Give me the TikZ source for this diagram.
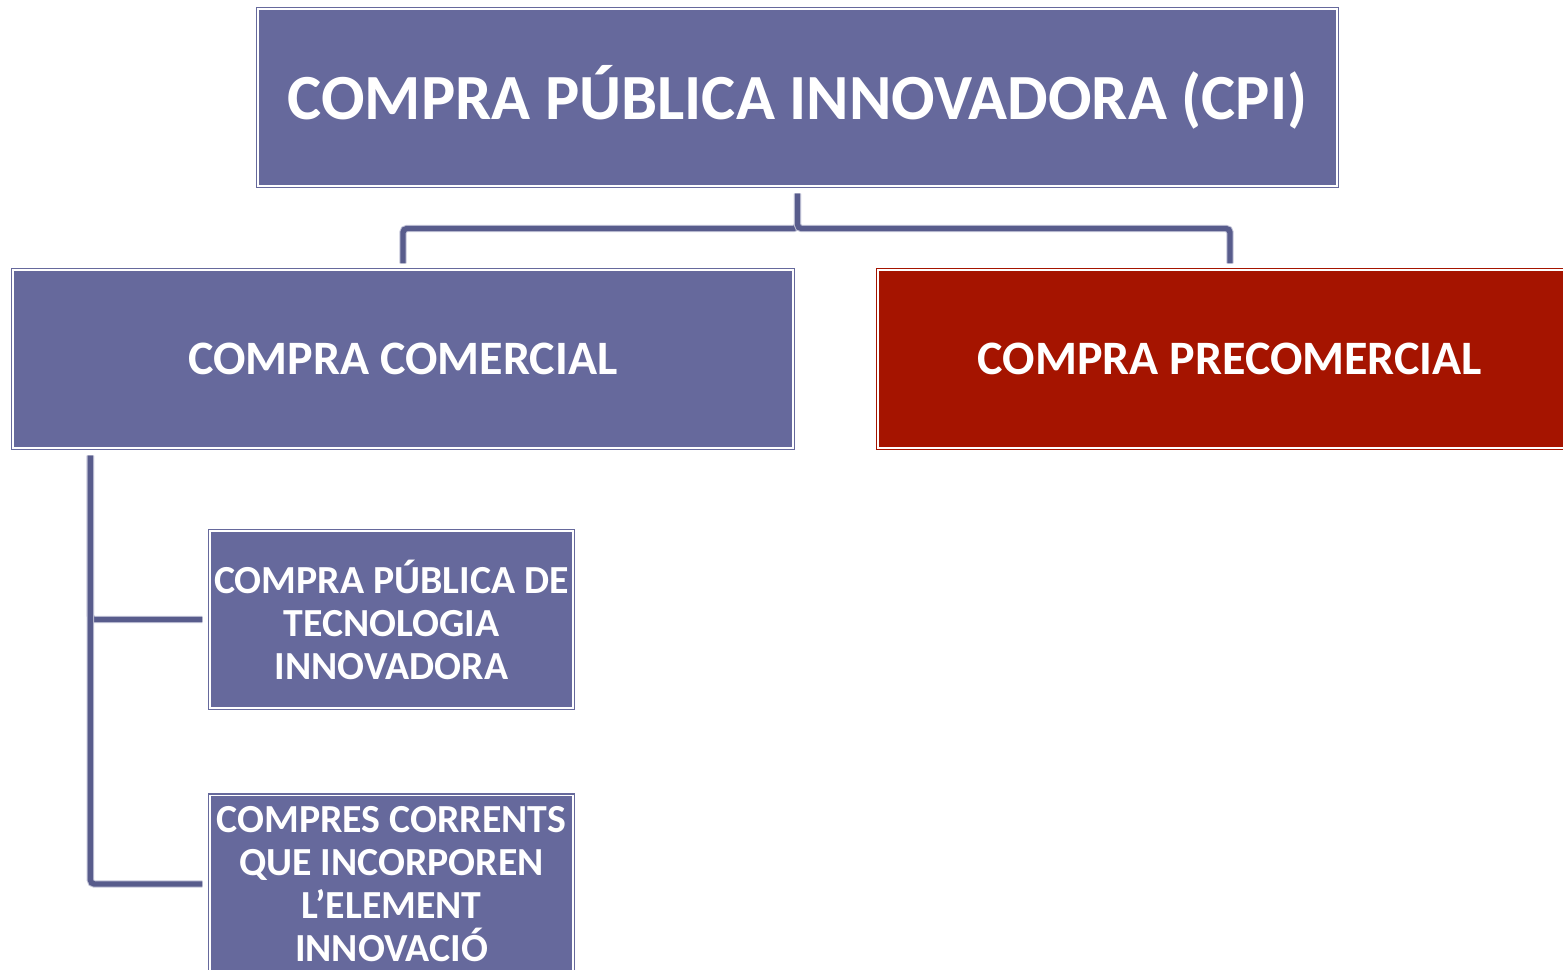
\documentclass[tikz,border=0pt]{standalone}
\usepackage{fontspec}
\setmainfont{Carlito}
\usetikzlibrary{positioning, calc}
\definecolor{cpiblue}{RGB}{102,105,156}
\definecolor{cpired}{RGB}{165,20,0}
\definecolor{linkblue}{RGB}{88,92,140}

\begin{document}
\begin{tikzpicture}[x=0.5pt, y=-0.5pt,
    box/.style={draw=#1, fill=#1, double=white, double distance=0.9pt, line width=0.6pt, text=white, align=center, inner sep=0pt},
    topbox/.style={box=cpiblue, minimum width=539.4pt, minimum height=88.4pt, font=\bfseries\fontsize{32.2}{38}\selectfont},
    midbox/.style={box=#1, minimum height=89pt, font=\bfseries\fontsize{24}{29}\selectfont},
    subbox/.style={box=cpiblue, minimum width=181.5pt, minimum height=88.5pt, font=\bfseries\fontsize{19.9}{21.5}\selectfont},
    link/.style={draw=linkblue, line width=2.7pt, rounded corners=2pt, preaction={draw=cpiblue!40, line width=3.7pt}}
]
    \useasboundingbox (0,0) rectangle (1563,969);
    \clip (0,0) rectangle (1563,969);

    % Top level
    \node[topbox] (cpi) at (797.5,97.5) {COMPRA PÚBLICA INNOVADORA (CPI)};

    % Second level
    \node[midbox=cpiblue, minimum width=390pt] (com) at (403,359) {COMPRA COMERCIAL};
    \node[midbox=cpired, minimum width=352pt] (pre) at (1230,359) {COMPRA PRECOMERCIAL};

    % Third level
    \node[subbox] (tec) at (391.5,619.5) {COMPRA PÚBLICA DE\\TECNOLOGIA\\INNOVADORA};
    \node[subbox] (cor) at (391.5,884) {COMPRES CORRENTS\\QUE INCORPOREN\\L’ELEMENT\\INNOVACIÓ};

    % Connectors
    \draw[link, shorten <=3.5pt, shorten >=3pt] (cpi.south) -- ++(0,42) -| (com.north);
    \draw[link, shorten <=3.5pt, shorten >=3pt] (cpi.south) -- ++(0,42) -| (pre.north);
    \coordinate (trunk) at ($(com.south west)+(78,7)$);
    \draw[link, shorten >=3.5pt] (trunk) |- (tec.west);
    \draw[link, shorten >=3.5pt] (trunk) |- (cor.west);
\end{tikzpicture}
\end{document}
